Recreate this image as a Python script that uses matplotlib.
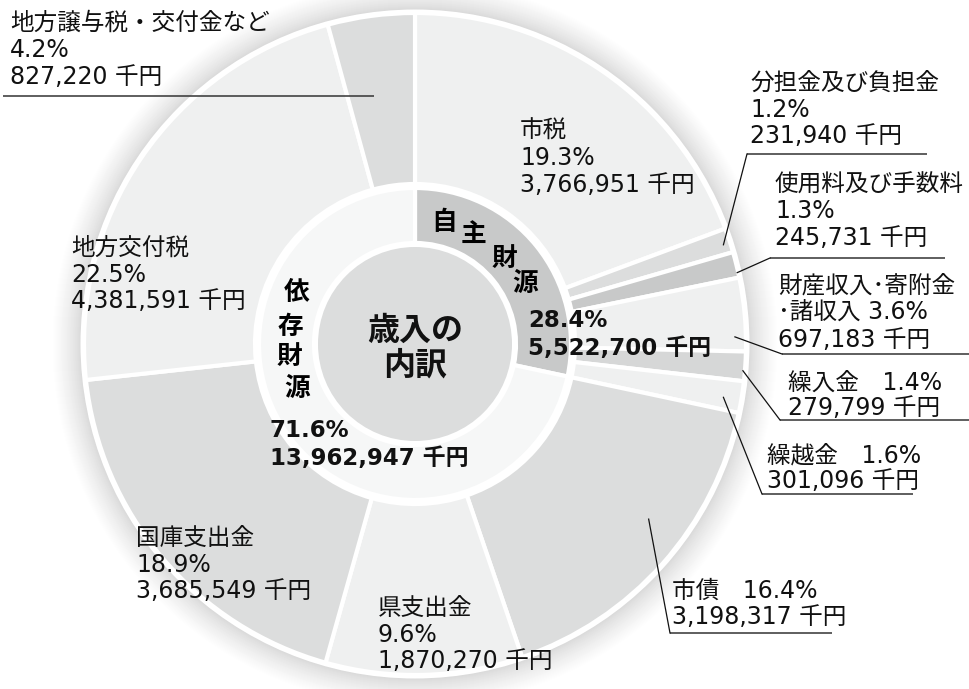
import numpy as np
import matplotlib
matplotlib.use("Agg")
import matplotlib.pyplot as plt
from matplotlib.patches import Circle

plt.rcParams['font.family'] = ['DejaVu Sans', 'Noto Sans CJK JP']

# ---------------- data ----------------
categories = ["市税", "分担金及び負担金", "使用料及び手数料", "財産収入・寄附金・諸収入",
              "繰入金", "繰越金", "市債", "県支出金", "国庫支出金", "地方交付税",
              "地方譲与税・交付金など"]
values = [3766951, 231940, 245731, 697183, 279799, 301096,
          3198317, 1870270, 3685549, 4381591, 827220]
percents = ["19.3%", "1.2%", "1.3%", "3.6%", "1.4%", "1.6%",
            "16.4%", "9.6%", "18.9%", "22.5%", "4.2%"]
groups = ["自主財源", "依存財源"]
group_values = [5522700, 13962947]
group_percents = ["28.4%", "71.6%"]
center_title = "歳入の\n内訳"

# ---------------- style / layout ----------------
W, H = 969, 689
CX, CY = 415, 344
R_OUT, R_OUT_IN = 333, 160
R_MID, R_MID_IN = 156, 101
R_CORE = 97
seg_colors = ["#eff0f0", "#dcdddd", "#c8c9c9", "#eff0f0", "#d6d7d7", "#eff0f0",
              "#dcdddd", "#eff0f0", "#dcdddd", "#eff0f0", "#dcdddd"]
group_colors = ["#c8c9c9", "#f6f7f7"]
core_color = "#dcdddd"
FS = 17
FSB = 16.5
FSV = 18.5

fig = plt.figure(figsize=(W / 100, H / 100), dpi=100)
ax = fig.add_axes([0, 0, 1, 1])

# halo
N = 30
for k in range(N, 0, -1):
    t = k / float(N)
    g = 0.83 + 0.17 * t ** 0.7
    ax.add_patch(Circle((CX, CY), R_OUT + k, color=(g, g, g), lw=0, zorder=0))
ax.add_patch(Circle((CX, CY), R_OUT + 1.5, color="white", lw=0, zorder=0.5))

ax.pie(values, colors=seg_colors, radius=R_OUT - 2, center=(CX, CY),
       startangle=-90, counterclock=True,
       wedgeprops=dict(width=R_OUT - 2 - R_OUT_IN, edgecolor="white", linewidth=3))
ax.pie(group_values, colors=group_colors, radius=R_MID, center=(CX, CY),
       startangle=-90, counterclock=True,
       wedgeprops=dict(width=R_MID - R_MID_IN, edgecolor="white", linewidth=3))
ax.add_patch(Circle((CX, CY), R_CORE, color=core_color, lw=0, zorder=3))

ax.set_xlim(0, W)
ax.set_ylim(H, 0)
ax.set_aspect("auto")
ax.axis("off")


def yen(v):
    return f"{v:,} 千円"


def lines(x, ys, texts, fs=FS, fw="normal", ha="left"):
    for y, t in zip(ys, texts):
        ax.text(x, y, t, fontsize=fs, fontweight=fw,
                ha=ha, va="baseline", color="#111111", zorder=6)


# angle helpers
total = sum(values)
cum = np.cumsum([0] + values) / total * 360.0


def anchor(i, frac, r):
    a = np.deg2rad(cum[i] + frac * (cum[i + 1] - cum[i]))
    return CX + r * np.sin(a), CY - r * np.cos(a)


# label layout: (index, x, baselines, texts, underline (x0, x1, y) or None, leader (frac, r) or None)
lab = [
    (0, 520, [138, 165, 192], [categories[0], percents[0], yen(values[0])], None, None),
    (1, 750, [90, 117, 143], ["分担金及び負担金", percents[1], yen(values[1])], (747, 927, 154), (0.6, 324)),
    (2, 775, [192, 218, 245], ["使用料及び手数料", percents[2], yen(values[2])], (770, 945, 258), (0.8, 330)),
    (3, 778, [293, 320, 347], ["財産収入･寄附金", "･諸収入 " + percents[3], yen(values[3])], (782, 969, 354), (0.8, 320)),
    (4, 788, [390, 415], ["繰入金　" + percents[4], yen(values[4])], (780, 969, 420), (0.65, 329)),
    (5, 767, [462, 488], ["繰越金　" + percents[5], yen(values[5])], (762, 913, 494), (0.6, 313)),
    (6, 672, [598, 624], ["市債　" + percents[6], yen(values[6])], (670, 832, 633), (0.42, 292)),
    (7, 378, [615, 642, 668], [categories[7], percents[7], yen(values[7])], None, None),
    (8, 136, [545, 572, 598], [categories[8], percents[8], yen(values[8])], None, None),
    (9, 71, [255, 282, 308], [categories[9], percents[9], yen(values[9])], None, None),
    (10, 10, [30, 57, 84], [categories[10], percents[10], yen(values[10])], (3, 374, 96), None),
]

for i, x, ys, texts, ul, ld in lab:
    lines(x, ys, texts)
    if ul is not None:
        ax.plot([ul[0], ul[1]], [ul[2], ul[2]], color="#333333", lw=1.1, zorder=6,
                solid_capstyle="butt")
    if ld is not None:
        px, py = anchor(i, ld[0], ld[1])
        ax.plot([ul[0], px], [ul[2], py], color="#111111", lw=0.9, zorder=6)

# group labels (bold)
for ch, (x, y) in zip(groups[0], [(444, 222), (474, 234), (504, 258), (525, 283)]):
    ax.text(x, y, ch, fontsize=FSV, fontweight="bold", ha="center", va="center", zorder=6,
            family=["Noto Sans CJK JP"])
lines(528, [327, 355], [group_percents[0], yen(group_values[0])], fs=FSB, fw="bold")
for ch, (x, y) in zip(groups[1], [(297, 292), (290, 326), (289, 356), (297, 388)]):
    ax.text(x, y, ch, fontsize=FSV, fontweight="bold", ha="center", va="center", zorder=6,
            family=["Noto Sans CJK JP"])
lines(270, [437, 465], [group_percents[1], yen(group_values[1])], fs=FSB, fw="bold")

# center
for y, t in zip([340, 375], center_title.split("\n")):
    ax.text(CX, y, t, fontsize=23, fontweight="bold", ha="center", va="baseline",
            color="#111111", zorder=6, family=["Noto Sans CJK JP"])

fig.savefig("out.png", dpi=100)
